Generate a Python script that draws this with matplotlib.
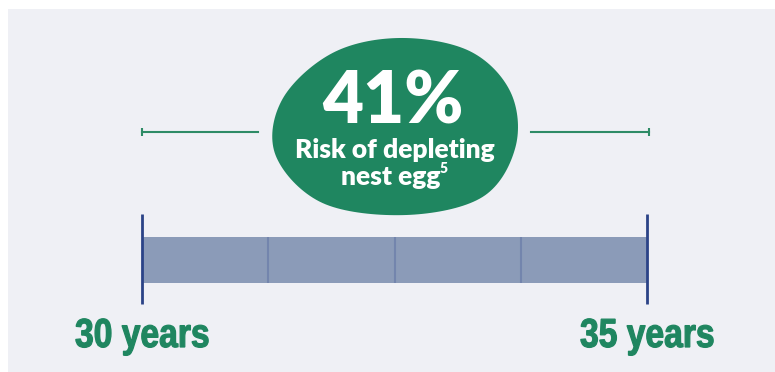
import numpy as np
import matplotlib
matplotlib.use('Agg')
import matplotlib.pyplot as plt
from matplotlib.patches import Rectangle, Polygon, PathPatch
from matplotlib.textpath import TextPath
from matplotlib.font_manager import FontProperties
from matplotlib.transforms import Affine2D, IdentityTransform

# data
start_year = 30
end_year = 35
n_segments = 4
risk_pct = 41
risk_lines = ['Risk of depleting', 'nest egg']
footnote = '5'
end_labels = ['30 years', '35 years']

green = '#1f8660'
bar_col = '#8b9bb8'
div_col = '#7385ad'
edge_col = '#2b4387'
panel_col = '#eff0f5'

W, H = 775, 372
px_per_year = 101.0
x0_px = 142

fig = plt.figure(figsize=(W / 100, H / 100), dpi=100)
ax = fig.add_axes([0, 0, 1, 1])
ax.set_xlim(start_year - x0_px / px_per_year, start_year + (W - x0_px) / px_per_year)
ax.set_ylim(H, 0)
ax.axis('off')

ax.add_patch(Rectangle((8 / W, 0), 1, 1 - 9 / H, transform=ax.transAxes,
                       facecolor=panel_col, edgecolor='none', zorder=0))

# timeline bar
ax.barh(260, end_year - start_year, left=start_year, height=46, color=bar_col, zorder=2)
divs = np.linspace(start_year, end_year, n_segments + 1)[1:-1]
ax.vlines(divs, 237, 283, color=div_col, lw=1.5, zorder=3)
ax.vlines([start_year, end_year], 214, 304, color=edge_col, lw=2, zorder=3)

# bracket lines
mid = (start_year + end_year) / 2
gap = 137 / px_per_year
ax.plot([start_year, mid - gap], [131.5, 131.5], color='#2e8b66', lw=1.5, zorder=2)
ax.plot([mid + gap, end_year + 0.02], [131.5, 131.5], color='#2e8b66', lw=1.5, zorder=2)
ax.vlines([start_year, end_year + 0.02], 128, 136, color='#2e8b66', lw=1.5, zorder=2)

# blob (closed catmull-rom through outline points, pixel offsets from centre)
pts = np.array([(5, -89), (75, -76), (116, -35), (121, 20), (88, 70), (12, 88),
                (-72, 76), (-119, 28), (-112, -28), (-62, -74)], dtype=float)
n = len(pts)
curve = []
for i in range(n):
    p0, p1, p2, p3 = pts[i - 1], pts[i], pts[(i + 1) % n], pts[(i + 2) % n]
    for t in np.linspace(0, 1, 20, endpoint=False):
        t2, t3 = t * t, t * t * t
        curve.append(0.5 * ((2 * p1) + (-p0 + p2) * t + (2 * p0 - 5 * p1 + 4 * p2 - p3) * t2
                            + (-p0 + 3 * p1 - 3 * p2 + p3) * t3))
curve = np.array(curve)
cx, cy = mid, 127
blob = np.column_stack([cx + curve[:, 0] / px_per_year, cy + curve[:, 1]])
ax.add_patch(Polygon(blob, closed=True, facecolor=green, edgecolor='none', zorder=4))

fam = ['Lato', 'DejaVu Sans']
ax.text(mid - 1.5 / px_per_year, 123, f'{risk_pct}%', ha='center', va='baseline', fontsize=51,
        fontweight='heavy', color='white', family=fam, zorder=5)
ax.text(mid, 158, risk_lines[0], ha='center', va='baseline', fontsize=19,
        fontweight='heavy', color='white', family=fam, zorder=5)
t2 = ax.text(mid - 4 / px_per_year, 185, risk_lines[1], ha='center', va='baseline', fontsize=19,
             fontweight='heavy', color='white', family=fam, zorder=5)
fig.canvas.draw()
bb = t2.get_window_extent().transformed(ax.transData.inverted())
ax.text(bb.x1 - 0.5 / px_per_year, 173, footnote, ha='left', va='baseline', fontsize=10,
        fontweight='heavy', color='white', family=fam, zorder=5)

# condensed bold labels: text path squeezed horizontally
fp = FontProperties(family='Liberation Sans', weight='bold')
for xv, lab in zip([start_year, end_year], end_labels):
    tp = TextPath((0, 0), lab, size=40.5, prop=fp)
    ext = tp.get_extents()
    sx = 0.83
    dx, dy = ax.transData.transform((xv, 347))
    tr = Affine2D().translate(-(ext.x0 + ext.x1) / 2, 0).scale(sx, 1).translate(dx, dy)
    ax.add_patch(PathPatch(tp, transform=tr + IdentityTransform(), facecolor=green,
                           edgecolor=green, lw=0.9, zorder=5))

fig.savefig('out.png', dpi=100, facecolor='white')
